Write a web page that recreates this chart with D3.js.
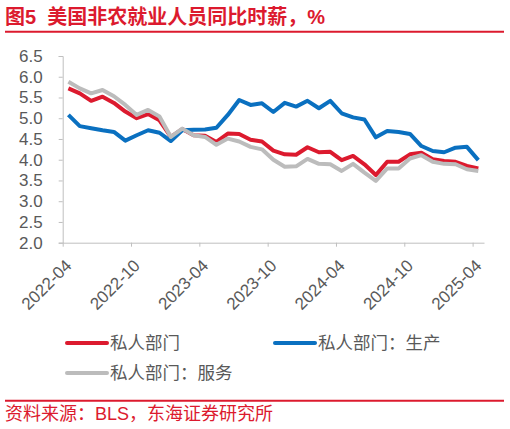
<!DOCTYPE html>
<html lang="zh">
<head>
    <meta charset="UTF-8">
    <title>美国非农就业人员同比时薪</title>
    <script src="https://d3js.org/d3.v7.min.js"></script>
    <style>
        body { margin: 0; background: #fff; }
        svg text { font-family: "Liberation Sans", Arial, "Noto Sans CJK SC", sans-serif; }
    </style>
</head>
<body>
    <div id="chart"></div>
    <script>
        // monthly categories 2022-04 .. 2025-04
        const months = [];
        for (let y = 2022; y <= 2025; y++) {
            for (let m = 1; m <= 12; m++) {
                const k = y * 100 + m;
                if (k >= 202204 && k <= 202504) months.push(`${y}-${String(m).padStart(2, "0")}`);
            }
        }
        const tickLabels = ["2022-04", "2022-10", "2023-04", "2023-10", "2024-04", "2024-10", "2025-04"];
        const yTicks = [2.0, 2.5, 3.0, 3.5, 4.0, 4.5, 5.0, 5.5, 6.0, 6.5];

        const privateAll = [5.72, 5.60, 5.42, 5.52, 5.37, 5.16, 5.00, 5.10, 4.95, 4.55, 4.74, 4.59, 4.58,
            4.43, 4.63, 4.62, 4.48, 4.44, 4.22, 4.13, 4.12, 4.30, 4.18, 4.19, 3.99, 4.09, 3.89, 3.63,
            3.95, 3.95, 4.13, 4.17, 4.01, 3.97, 3.95, 3.85, 3.79];
        const goods = [5.08, 4.81, 4.76, 4.71, 4.67, 4.46, 4.59, 4.71, 4.65, 4.45, 4.71, 4.72, 4.73,
            4.77, 5.08, 5.44, 5.32, 5.36, 5.15, 5.37, 5.28, 5.42, 5.24, 5.42, 5.12, 5.02, 4.97, 4.54,
            4.69, 4.67, 4.62, 4.33, 4.21, 4.18, 4.29, 4.31, 3.99];
        const services = [5.88, 5.72, 5.60, 5.68, 5.53, 5.32, 5.08, 5.20, 5.04, 4.55, 4.75, 4.59, 4.55,
            4.36, 4.51, 4.44, 4.31, 4.25, 4.00, 3.83, 3.84, 4.02, 3.90, 3.89, 3.73, 3.90, 3.69, 3.49,
            3.79, 3.79, 4.03, 4.11, 3.95, 3.90, 3.89, 3.77, 3.73];

        const red = "#dc1a2e";
        const series = [
            {name: "私人部门", values: privateAll, color: red},
            {name: "私人部门：生产", values: goods, color: "#0a70c0"},
            {name: "私人部门：服务", values: services, color: "#bcbcbc"}
        ];

        const W = 510, H = 429;
        const plot = {left: 62.7, right: 484, top: 56, bottom: 242.7};

        const svg = d3.select("#chart").append("svg")
            .attr("width", W)
            .attr("height", H);

        // title + rule
        svg.append("text")
            .attr("x", 5)
            .attr("y", 24)
            .attr("fill", red)
            .attr("font-size", "20px")
            .attr("font-weight", "bold")
            .attr("xml:space", "preserve")
            .text("图5  美国非农就业人员同比时薪，%");
        svg.append("line")
            .attr("x1", 5).attr("x2", 504)
            .attr("y1", 31.7).attr("y2", 31.7)
            .attr("stroke", red).attr("stroke-width", 2);

        // scales: band style category axis, points at the centre of each month
        const x = d3.scaleBand().domain(months).range([plot.left, plot.right]);
        const xc = d => x(d) + x.bandwidth() / 2;
        const y = d3.scaleLinear().domain([2, 6.5]).range([plot.bottom, plot.top]);

        // y axis
        const yAxis = svg.append("g")
            .attr("transform", `translate(${plot.left},0)`)
            .call(d3.axisLeft(y).tickValues(yTicks).tickFormat(d3.format(".1f")).tickSize(4).tickPadding(16));
        yAxis.select(".domain").attr("stroke", "#bfbfbf");
        yAxis.selectAll(".tick line").attr("stroke", "#bfbfbf");
        yAxis.selectAll("text").attr("fill", "#595959").attr("font-size", "17px");

        // x axis, ticks on category boundaries
        const xAxis = svg.append("g")
            .attr("transform", `translate(0,${plot.bottom})`)
            .call(d3.axisBottom(d3.scaleLinear().domain([0, months.length]).range([plot.left, plot.right]))
                .tickValues(tickLabels.map(t => months.indexOf(t)))
                .tickSize(4).tickSizeOuter(0).tickFormat(""));
        xAxis.select(".domain").attr("stroke", "#bfbfbf");
        xAxis.selectAll(".tick line").attr("stroke", "#bfbfbf");

        svg.append("g").selectAll("text")
            .data(tickLabels)
            .join("text")
            .attr("transform", d => `translate(${x(d) + 10},${plot.bottom + 24}) rotate(-45)`)
            .attr("text-anchor", "end")
            .attr("fill", "#595959")
            .attr("font-size", "17px")
            .text(d => d);

        // lines
        const line = d3.line()
            .x((d, i) => xc(months[i]))
            .y(d => y(d));

        svg.append("g").selectAll("path")
            .data(series)
            .join("path")
            .attr("d", d => line(d.values))
            .attr("fill", "none")
            .attr("stroke", d => d.color)
            .attr("stroke-width", 4)
            .attr("stroke-linejoin", "round");

        // legend
        const legendPos = [[67, 343], [275, 343], [67, 373]];
        const legend = svg.append("g").selectAll("g")
            .data(series)
            .join("g")
            .attr("transform", (d, i) => `translate(${legendPos[i][0]},${legendPos[i][1]})`);
        legend.append("line")
            .attr("x1", 0).attr("x2", 40)
            .attr("stroke", d => d.color)
            .attr("stroke-width", 4)
            .attr("stroke-linecap", "round");
        legend.append("text")
            .attr("x", 43)
            .attr("dy", "0.35em")
            .attr("fill", "#595959")
            .attr("font-size", "17.5px")
            .text(d => d.name);

        // source
        svg.append("line")
            .attr("x1", 5).attr("x2", 504)
            .attr("y1", 400.7).attr("y2", 400.7)
            .attr("stroke", red).attr("stroke-width", 2);
        svg.append("text")
            .attr("x", 5)
            .attr("y", 420)
            .attr("fill", red)
            .attr("font-size", "18px")
            .text("资料来源：BLS，东海证券研究所");
    </script>
</body>
</html>
